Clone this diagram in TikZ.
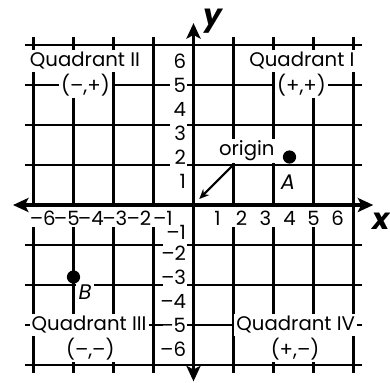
\documentclass[tikz,border=0pt]{standalone}
\usepackage{fontspec}
\setmainfont{Poppins}
\usetikzlibrary{arrows.meta}
\begin{document}
\begin{tikzpicture}[x=0.6cm,y=0.6cm,
  font=\fontsize{14}{16}\selectfont,
  gridline/.style={line width=1.6pt},
  axisline/.style={line width=2.5pt,{Stealth[length=11pt,width=10pt,inset=2.5pt]}-{Stealth[length=11pt,width=10pt,inset=2.5pt]}},
  band/.style={fill=white},
  qlabel/.style={fill=white,inner sep=1.5pt},
  numlabel/.style={inner sep=0pt},
  ptlabel/.style={fill=white,inner sep=2pt,font=\fontsize{15}{17}\selectfont\itshape},
  dot/.style={circle,fill=black,inner sep=0pt,minimum size=9.4pt},
  axlabel/.style={font=\fontsize{21}{23}\selectfont\bfseries\itshape},
  ptr/.style={line width=1.5pt,-{Stealth[length=7pt,width=6pt]}}
]
\useasboundingbox (-8.0625,-7.375) rectangle (8.1875,8.542);
% grid
\draw[gridline] (-7,-7) grid (7,7);
% white bands behind axis numbers
\fill[band] (-6.92,-0.09) rectangle (-0.1,-0.9);
\fill[band] (0.1,-0.09) rectangle (6.45,-0.9);
\fill[band] (-0.96,6.6) rectangle (-0.27,0.35);
\fill[band] (-1.25,-0.9) rectangle (-0.27,-6.6);
% axes
\coordinate (xl) at (-7.52,0);
\coordinate (xr) at (7.49,0);
\coordinate (yb) at (0,-7.35);
\coordinate (yt) at (0,7.58);
\draw[axisline] (xl) -- (xr);
\draw[axisline] (yb) -- (yt);
% axis numbers
\foreach \i in {1,...,6} {
  \node[numlabel] (xp\i) at (\i,-0.55) {\i};
  \node[numlabel] (xn\i) at (-\i,-0.55) {\llap{–}\i};
  \node[numlabel,anchor=east] (yp\i) at (-0.3,\i) {\i};
}
\node[numlabel,anchor=east] (yn1) at (-0.3,-1.13) {–1};
\foreach \i in {2,...,6} {
  \node[numlabel,anchor=east] (yn\i) at (-0.3,-\i) {–\i};
}
% axis labels
\node[axlabel] (ylab) at (0.81,7.64) {y};
\node[axlabel] (xlab) at (7.81,-0.67) {x};
% quadrant labels
\node[qlabel] (q2) at (-4.52,6) {Quadrant II};
\node[qlabel] (q2s) at (-4.5,5) {(–,+)};
\node[qlabel] (q1) at (4.52,6) {Quadrant I};
\node[qlabel] (q1s) at (4.5,5) {(+,+)};
\node[qlabel] (q3) at (-4.35,-5) {Quadrant III};
\node[qlabel] (q3s) at (-4.3,-6) {(–,–)};
\node[qlabel] (q4) at (4.26,-5) {Quadrant IV};
\node[qlabel] (q4s) at (4.23,-6) {(+,–)};
% points
\node[ptlabel] (Al) at (3.94,0.97) {A};
\node[dot] (A) at (4,2) {};
\node[ptlabel] (Bl) at (-4.52,-3.61) {B};
\node[dot] (B) at (-5,-3) {};
% origin label
\node[qlabel] (orig) at (2.22,2.26) {origin};
\coordinate (os) at (1.65,1.67);
\coordinate (ot) at (0.24,0.25);
\draw[ptr] (os) -- (ot);
\end{tikzpicture}
\end{document}
